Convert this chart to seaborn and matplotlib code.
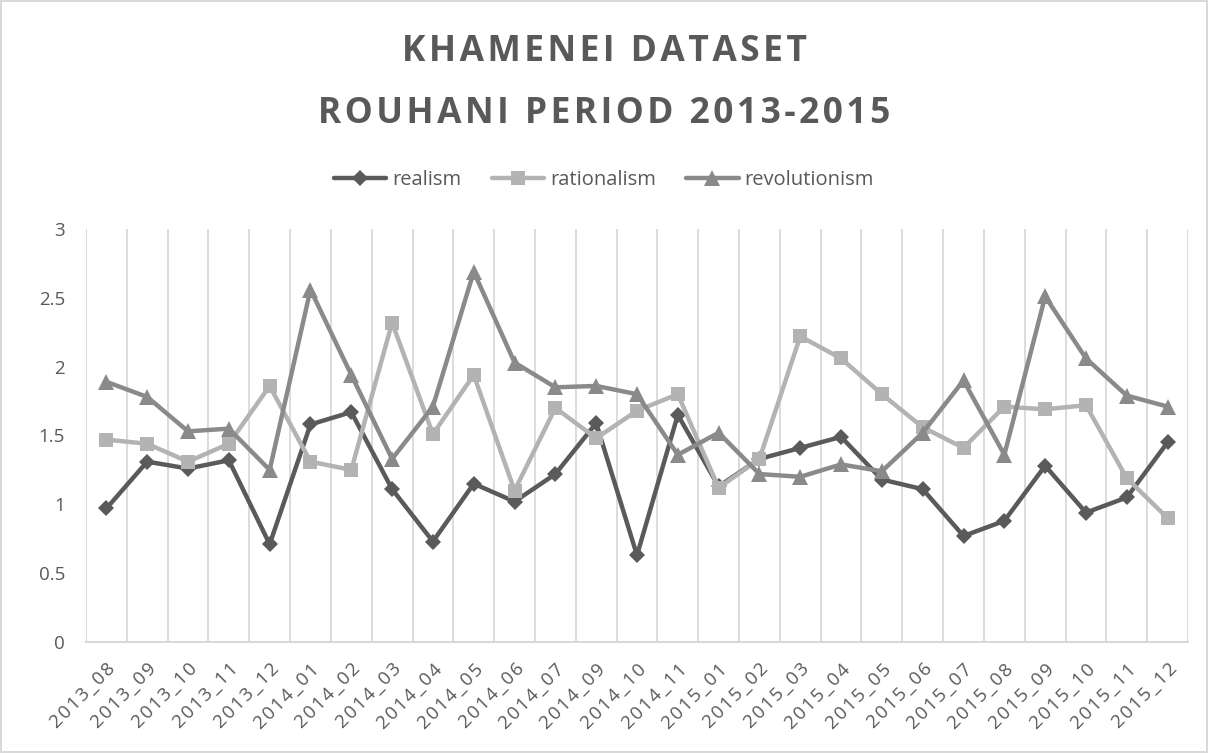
import numpy as np
import pandas as pd
import matplotlib
matplotlib.use("Agg")
import matplotlib.pyplot as plt
import seaborn as sns

# data
months = ['2013_08', '2013_09', '2013_10', '2013_11', '2013_12', '2014_01', '2014_02',
          '2014_03', '2014_04', '2014_05', '2014_06', '2014_07', '2014_09', '2014_10',
          '2014_11', '2015_01', '2015_02', '2015_03', '2015_04', '2015_05', '2015_06',
          '2015_07', '2015_08', '2015_09', '2015_10', '2015_11', '2015_12']
realism = [0.97, 1.31, 1.26, 1.32, 0.71, 1.58, 1.67, 1.11, 0.73, 1.15, 1.02, 1.22, 1.59, 0.63,
           1.65, 1.13, 1.33, 1.41, 1.49, 1.18, 1.11, 0.77, 0.88, 1.28, 0.94, 1.05, 1.45]
rationalism = [1.47, 1.44, 1.31, 1.44, 1.86, 1.31, 1.25, 2.32, 1.51, 1.94, 1.10, 1.70, 1.48, 1.68,
               1.80, 1.12, 1.33, 2.22, 2.06, 1.80, 1.56, 1.41, 1.71, 1.69, 1.72, 1.19, 0.90]
revolutionism = [1.89, 1.78, 1.53, 1.55, 1.25, 2.56, 1.94, 1.33, 1.71, 2.69, 2.03, 1.85, 1.86, 1.80,
                 1.36, 1.52, 1.22, 1.20, 1.29, 1.24, 1.52, 1.90, 1.36, 2.51, 2.06, 1.79, 1.71]
title_lines = ['KHAMENEI DATASET', 'ROUHANI PERIOD 2013-2015']

series = {'realism': realism, 'rationalism': rationalism, 'revolutionism': revolutionism}
colors = {'realism': '#5a5a5a', 'rationalism': '#b3b3b3', 'revolutionism': '#8a8a8a'}
markers = {'realism': 'D', 'rationalism': 's', 'revolutionism': '^'}
msizes = {'realism': 8, 'rationalism': 10, 'revolutionism': 11}

sns.set_theme(style='white')
plt.rcParams['font.family'] = ['Open Sans', 'DejaVu Sans']
text_col = '#595959'
grid_col = '#d9d9d9'
hair = '\u200a'  # used for Excel-like letter spacing

fig = plt.figure(figsize=(12.08, 7.53), dpi=100)
fig.patch.set_edgecolor(grid_col)
fig.patch.set_linewidth(1.5)
ax = fig.add_axes([86 / 1208, 1 - 642 / 753, (1188 - 86) / 1208, (642 - 229) / 753])

x = np.arange(len(months))
for name, vals in series.items():
    sns.lineplot(x=x, y=vals, ax=ax, color=colors[name], marker=markers[name],
                 markersize=msizes[name], markeredgewidth=0, linewidth=3.2,
                 label=name, sort=False)

# vertical gridlines between categories (Excel style)
for b in np.arange(-0.5, len(months), 1.0):
    ax.axvline(b, color=grid_col, linewidth=1.3, zorder=0)

ax.set_xlim(-0.5, len(months) - 0.5)
ax.set_ylim(0, 3)
ax.set_yticks([0, 0.5, 1, 1.5, 2, 2.5, 3])
ax.set_yticklabels(['0', '0.5', '1', '1.5', '2', '2.5', '3'], fontsize=13.5)
ax.set_xticks(x)
ax.set_xticklabels([hair.join(m) for m in months], rotation=45, ha='right',
                   rotation_mode='anchor', fontsize=13.5)
ax.tick_params(axis='both', length=0, labelcolor=text_col)
ax.tick_params(axis='x', pad=13)
ax.tick_params(axis='y', pad=15)
for s in ['left', 'right', 'top']:
    ax.spines[s].set_visible(False)
ax.spines['bottom'].set_color(grid_col)
ax.spines['bottom'].set_linewidth(1.5)
ax.set_xlabel('')
ax.set_ylabel('')

leg = ax.legend(loc='center', bbox_to_anchor=(0.5, 1 - 180 / 753), bbox_transform=fig.transFigure,
                ncol=3, frameon=False, fontsize=14.5, handlelength=2.6, columnspacing=1.5,
                handletextpad=0.3)
for t in leg.get_texts():
    t.set_color(text_col)

for line, ypix in zip(title_lines, [52, 114]):
    fig.text(0.5, 1 - ypix / 753, hair.join(line), ha='center', va='center',
             fontsize=25.5, fontweight='bold', color=text_col)

fig.savefig('out.png', dpi=100)
